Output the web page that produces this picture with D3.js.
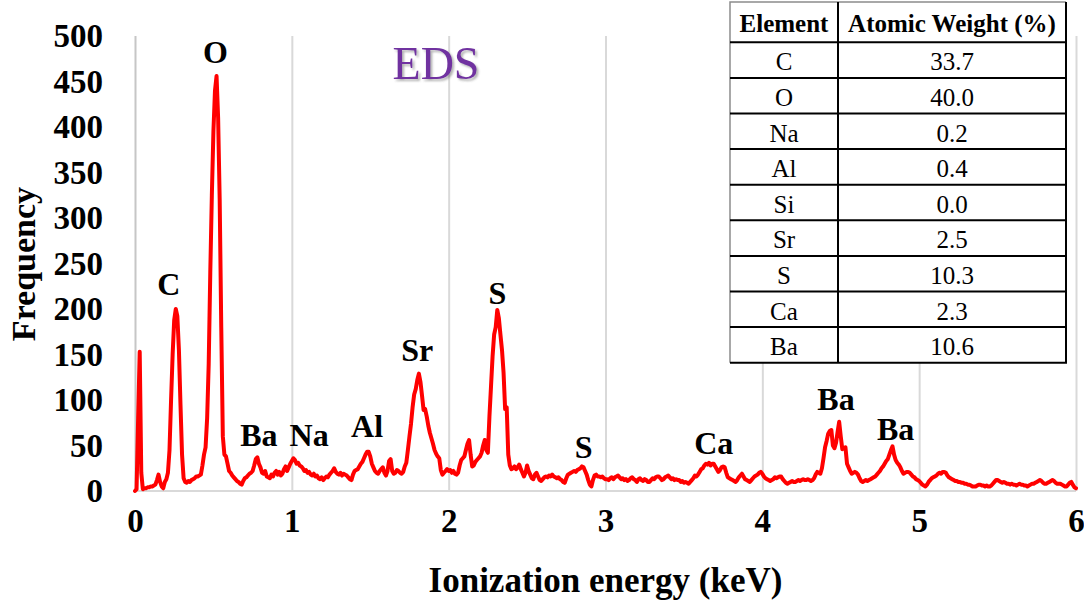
<!DOCTYPE html>
<html>
<head>
<meta charset="utf-8">
<script src="https://cdn.jsdelivr.net/npm/d3@7"></script>
<style>
  body { margin: 0; background: #fff; }
  svg { display: block; }
</style>
</head>
<body>
<script>
// EDS spectrum, counts read every 0.01 keV from 0 to 6 keV
const counts = [
  0, 2, 80, 153, 20, 2, 3, 3, 4, 4,
  5, 5, 6, 7, 12, 18, 10, 5, 3, 10,
  13, 20, 45, 100, 150, 188, 200, 192, 155, 95,
  40, 14, 10, 9, 11, 10, 12, 13, 14, 16,
  16, 17, 18, 28, 40, 48, 80, 140, 240, 325,
  395, 440, 456, 410, 320, 180, 60, 40, 38, 30,
  22, 20, 17, 15, 13, 11, 10, 8, 7, 11,
  14, 15, 17, 19, 20, 22, 28, 35, 37, 30,
  26, 20, 19, 22, 16, 15, 14, 18, 16, 20,
  22, 18, 21, 17, 19, 24, 27, 22, 26, 30,
  33, 36, 34, 30, 31, 28, 27, 25, 22, 23,
  20, 21, 18, 17, 19, 16, 17, 14, 13, 15,
  12, 14, 16, 15, 18, 20, 22, 25, 21, 19,
  18, 20, 17, 19, 18, 17, 15, 13, 12, 18,
  22, 23, 24, 27, 30, 32, 36, 40, 43, 43,
  38, 30, 26, 22, 20, 19, 22, 24, 26, 20,
  17, 22, 33, 35, 22, 19, 20, 23, 22, 20,
  19, 21, 27, 31, 45, 60, 74, 92, 106, 112,
  122, 129, 120, 105, 89, 90, 82, 72, 64, 58,
  52, 45, 41, 38, 36, 23, 18, 20, 22, 24,
  22, 23, 20, 22, 19, 18, 20, 28, 34, 36,
  38, 45, 52, 56, 40, 27, 28, 32, 34, 36,
  38, 42, 50, 56, 45, 42, 82, 115, 148, 172,
  180, 199, 190, 172, 155, 130, 90, 92, 40, 28,
  24, 25, 27, 24, 26, 29, 24, 20, 16, 20,
  28, 22, 18, 14, 13, 18, 20, 16, 12, 11,
  13, 15, 16, 15, 17, 16, 18, 16, 15, 14,
  15, 13, 12, 10, 9, 14, 18, 19, 20, 21,
  22, 21, 23, 24, 25, 27, 26, 22, 18, 12,
  7, 5, 12, 17, 18, 16, 16, 15, 16, 14,
  13, 13, 12, 14, 15, 13, 15, 16, 17, 15,
  13, 14, 12, 13, 11, 12, 14, 15, 13, 12,
  10, 13, 14, 12, 11, 13, 12, 10, 10, 12,
  14, 13, 15, 16, 16, 14, 12, 13, 15, 16,
  17, 15, 13, 14, 12, 13, 12, 12, 10, 11,
  9, 10, 9, 8, 10, 12, 14, 17, 16, 18,
  21, 24, 25, 28, 30, 29, 31, 28, 30, 30,
  27, 24, 21, 23, 26, 27, 26, 20, 15, 14,
  13, 12, 11, 10, 12, 15, 17, 19, 16, 13,
  12, 11, 10, 12, 14, 16, 17, 18, 20, 21,
  19, 16, 14, 13, 12, 11, 12, 13, 15, 14,
  15, 16, 16, 13, 11, 9, 8, 9, 10, 11,
  10, 10, 11, 12, 11, 12, 13, 12, 12, 13,
  12, 11, 12, 14, 18, 21, 20, 19, 25, 36,
  48, 55, 63, 66, 67, 50, 47, 53, 65, 76,
  60, 46, 47, 48, 30, 26, 22, 19, 20, 21,
  20, 18, 14, 11, 10, 11, 12, 11, 12, 13,
  14, 15, 16, 18, 20, 22, 25, 27, 30, 33,
  35, 40, 45, 49, 40, 34, 31, 29, 26, 22,
  19, 20, 21, 21, 20, 18, 16, 15, 13, 12,
  11, 9, 7, 6, 5, 7, 10, 12, 14, 15,
  16, 17, 19, 20, 19, 21, 21, 20, 17, 15,
  14, 13, 12, 11, 11, 10, 10, 9, 9, 8,
  8, 7, 7, 6, 5, 5, 5, 6, 7, 7,
  6, 6, 5, 6, 5, 5, 6, 8, 10, 12,
  12, 11, 10, 9, 10, 9, 8, 8, 7, 8,
  7, 7, 6, 7, 8, 7, 7, 6, 6, 5,
  6, 7, 8, 8, 9, 10, 11, 12, 11, 9,
  8, 8, 9, 10, 11, 12, 11, 9, 8, 8,
  8, 7, 6, 5, 5, 7, 9, 10, 7, 4,
  3
]
const energyStep = 0.01

const xTicks = [0, 1, 2, 3, 4, 5, 6]
const yTicks = [0, 50, 100, 150, 200, 250, 300, 350, 400, 450, 500]

// peak annotations (keV, counts at text baseline)
const peakNames = ["O", "C", "Ba", "Na", "Al", "Sr", "S", "S", "Ca", "Ba", "Ba"]
const peakKeV = [0.513, 0.215, 0.79, 1.11, 1.48, 1.8, 2.31, 2.86, 3.69, 4.47, 4.85]
const peakAt = [470, 215, 50, 50, 59, 143, 206, 36, 41, 89, 56]

// composition table
const elements = ["C", "O", "Na", "Al", "Si", "Sr", "S", "Ca", "Ba"]
const weights = ["33.7", "40.0", "0.2", "0.4", "0.0", "2.5", "10.3", "2.3", "10.6"]

const width = 1084
const height = 601
const serif = "'Liberation Serif', 'Times New Roman', Times, serif"

const x = d3.scaleLinear().domain([0, 6]).range([135, 1076])
const y = d3.scaleLinear().domain([0, 500]).range([491, 36])

const svg = d3.select("body").append("svg")
    .attr("width", width)
    .attr("height", height)
    .attr("xmlns", "http://www.w3.org/2000/svg")
    .style("font-family", serif)

const defs = svg.append("defs")
const shadow = defs.append("filter").attr("id", "shadow")
    .attr("x", "-20%").attr("y", "-20%").attr("width", "150%").attr("height", "150%")
shadow.append("feDropShadow")
    .attr("dx", 2).attr("dy", 2).attr("stdDeviation", 1.2)
    .attr("flood-color", "#555").attr("flood-opacity", 0.45)

// vertical grid + x tick labels
const xAxis = svg.append("g")
    .attr("transform", `translate(0,${y(0)})`)
    .call(d3.axisBottom(x).tickValues(xTicks).tickFormat(d3.format("d"))
        .tickSize(-(y(0) - y(500))).tickPadding(18))
xAxis.select(".domain").remove()
xAxis.selectAll(".tick line")
    .attr("stroke", (d, i) => i === 0 ? "#c6c6c6" : "#d9d9d9")
    .attr("stroke-width", 2)
xAxis.selectAll(".tick text")
    .attr("font-family", serif)
    .attr("font-size", 33)
    .attr("font-weight", "bold")
    .attr("fill", "#000")
    .attr("dy", "0.71em")

// baseline
svg.append("line")
    .attr("x1", x(0)).attr("x2", x(6))
    .attr("y1", y(0)).attr("y2", y(0))
    .attr("stroke", "#d9d9d9").attr("stroke-width", 2)

// y tick labels (no tick marks)
const yAxis = svg.append("g")
    .attr("transform", `translate(${x(0)},0)`)
    .call(d3.axisLeft(y).tickValues(yTicks).tickSize(0).tickPadding(32))
yAxis.select(".domain").remove()
yAxis.selectAll(".tick text")
    .attr("font-family", serif)
    .attr("font-size", 33)
    .attr("font-weight", "bold")
    .attr("fill", "#000")

// the spectrum
const line = d3.line()
    .x((d, i) => x(i * energyStep))
    .y(d => y(d))

svg.append("path")
    .datum(counts)
    .attr("fill", "none")
    .attr("stroke", "#ff0000")
    .attr("stroke-width", 4)
    .attr("stroke-linejoin", "round")
    .attr("stroke-linecap", "round")
    .attr("d", line)

// peak labels
svg.append("g")
    .selectAll("text")
    .data(peakNames)
    .join("text")
    .attr("x", (d, i) => x(peakKeV[i]))
    .attr("y", (d, i) => y(peakAt[i]))
    .attr("text-anchor", "middle")
    .attr("font-size", 32)
    .attr("font-weight", "bold")
    .text(d => d)

// title
svg.append("text")
    .attr("x", 436)
    .attr("y", 79)
    .attr("text-anchor", "middle")
    .attr("font-size", 46)
    .attr("fill", "#7030a0")
    .attr("filter", "url(#shadow)")
    .text("EDS")

// axis titles
svg.append("text")
    .attr("x", x(3))
    .attr("y", 592)
    .attr("text-anchor", "middle")
    .attr("font-size", 35)
    .attr("font-weight", "bold")
    .text("Ionization energy (keV)")

svg.append("text")
    .attr("transform", "translate(35,264) rotate(-90)")
    .attr("text-anchor", "middle")
    .attr("font-size", 34)
    .attr("font-weight", "bold")
    .text("Frequency")

// table, drawn over the grid
const tbl = { left: 730, mid: 838, right: 1066, top: 2, head: 42.3, row: 35.6 }
const table = svg.append("g")
const tBottom = tbl.head + elements.length * tbl.row

table.append("rect")
    .attr("x", tbl.left).attr("y", tbl.top)
    .attr("width", tbl.right - tbl.left).attr("height", tBottom - tbl.top)
    .attr("fill", "#fff")

// outer top/left edges are lighter in the original
table.append("path")
    .attr("d", `M${tbl.left},${tBottom}V${tbl.top}H${tbl.right}`)
    .attr("fill", "none").attr("stroke", "#8c8c8c").attr("stroke-width", 1.5)
table.append("path")
    .attr("d", `M${tbl.right},${tbl.top}V${tBottom}H${tbl.left}`)
    .attr("fill", "none").attr("stroke", "#000").attr("stroke-width", 2)
table.append("line")
    .attr("x1", tbl.mid).attr("x2", tbl.mid)
    .attr("y1", tbl.top).attr("y2", tBottom)
    .attr("stroke", "#000").attr("stroke-width", 2)
table.selectAll("line.row")
    .data(elements)
    .join("line")
    .attr("class", "row")
    .attr("x1", tbl.left).attr("x2", tbl.right)
    .attr("y1", (d, i) => tbl.head + i * tbl.row)
    .attr("y2", (d, i) => tbl.head + i * tbl.row)
    .attr("stroke", "#000").attr("stroke-width", 2)

table.append("text")
    .attr("x", (tbl.left + tbl.mid) / 2).attr("y", 31.5)
    .attr("text-anchor", "middle")
    .attr("font-size", 25).attr("font-weight", "bold")
    .text("Element")
table.append("text")
    .attr("x", (tbl.mid + tbl.right) / 2).attr("y", 31.5)
    .attr("text-anchor", "middle")
    .attr("font-size", 25).attr("font-weight", "bold")
    .text("Atomic Weight (%)")

table.selectAll("text.el")
    .data(elements)
    .join("text")
    .attr("class", "el")
    .attr("x", (tbl.left + tbl.mid) / 2)
    .attr("y", (d, i) => tbl.head + i * tbl.row + 28)
    .attr("text-anchor", "middle")
    .attr("font-size", 25)
    .text(d => d)

table.selectAll("text.wt")
    .data(weights)
    .join("text")
    .attr("class", "wt")
    .attr("x", (tbl.mid + tbl.right) / 2)
    .attr("y", (d, i) => tbl.head + i * tbl.row + 28)
    .attr("text-anchor", "middle")
    .attr("font-size", 25)
    .text(d => d)
</script>
</body>
</html>
